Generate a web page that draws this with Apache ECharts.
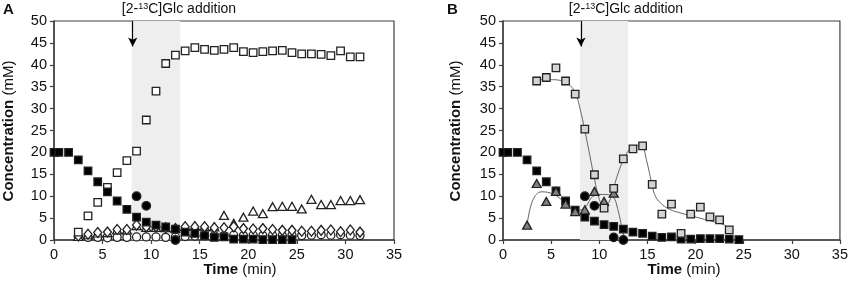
<!DOCTYPE html>
<html>
<head>
<meta charset="utf-8">
<script src="https://cdn.jsdelivr.net/npm/echarts@6/dist/echarts.min.js"></script>
<style>
  html, body { margin: 0; padding: 0; background: #fff; }
  #main { width: 851px; height: 285px; }
</style>
</head>
<body>
<div id="main"></div>
<script>
// ---- data ----
// panel A
var glcTimeA = [0, 0.5, 1.5, 2.5, 3.5, 4.5, 5.5, 6.5, 7.5, 8.5, 9.5, 10.5, 11.5, 12.5, 13.5, 14.5, 15.5, 16.5, 17.5, 18.5, 19.5, 20.5, 21.5, 22.5, 23.5, 24.5];
var glcA = [20, 20, 20, 18.3, 15.8, 13.3, 11.0, 8.9, 7.0, 5.2, 4.1, 3.4, 3.0, 2.5, 1.8, 1.5, 1.0, 0.6, 0.7, 0.2, 0.2, 0.2, 0.1, 0.1, 0.1, 0.1];
var timeA = [2.5, 3.5, 4.5, 5.5, 6.5, 7.5, 8.5, 9.5, 10.5, 11.5, 12.5, 13.5, 14.5, 15.5, 16.5, 17.5, 18.5, 19.5, 20.5, 21.5, 22.5, 23.5, 24.5, 25.5, 26.5, 27.5, 28.5, 29.5, 30.5, 31.5];
var openSqA = [1.8, 5.5, 8.6, 12.0, 15.4, 18.1, 20.3, 27.4, 34.0, 40.3, 42.2, 43.2, 43.9, 43.5, 43.3, 43.5, 43.9, 43.0, 42.8, 43.0, 43.2, 43.3, 42.8, 42.5, 42.5, 42.4, 42.1, 43.2, 41.8, 41.8];
var triA = [0.8, 1.2, 1.6, 1.7, 2.3, 2.3, 3.3, 2.9, 2.9, 2.8, 2.7, 3.1, 3.2, 3.1, 3.0, 5.6, 3.8, 5.2, 6.6, 6.0, 7.6, 7.7, 7.7, 7.1, 9.3, 8.1, 8.1, 9.0, 9.0, 9.2];
var diaA = [0.9, 1.3, 1.7, 1.8, 2.4, 2.4, 3.4, 3.0, 3.0, 2.8, 2.6, 3.0, 3.0, 3.0, 2.8, 2.8, 3.0, 2.6, 2.5, 2.6, 2.4, 2.2, 2.2, 2.0, 2.0, 2.2, 2.3, 1.9, 2.3, 1.8];
var circA = [0.8, 0.6, 0.6, 0.5, 0.6, 0.6, 0.7, 0.7, 0.7, 0.6, 0.7, 0.8, 0.9, 1.0, 1.0, 1.0, 1.1, 1.0, 1.1, 1.0, 1.1, 1.0, 1.1, 1.0, 1.1, 1.2, 1.1, 1.2, 1.1, 1.0];
var dotTimeA = [8.5, 9.5, 12.5];
var dotA = [10.0, 7.8, 0];

// panel B
var glcTimeB = [0, 0.5, 1.5, 2.5, 3.5, 4.5, 5.5, 6.5, 7.5, 8.5, 9.5, 10.5, 11.5, 12.5, 13.5, 14.5, 15.5, 16.5, 17.5, 18.5, 19.5, 20.5, 21.5, 22.5, 23.5, 24.5];
var glcB = [20, 20, 20, 18.3, 15.8, 13.3, 11.2, 8.9, 6.8, 5.2, 4.3, 3.5, 3.1, 2.5, 1.8, 1.5, 0.9, 0.6, 0.7, 0.2, 0.2, 0.3, 0.3, 0.3, 0.2, 0.1];
var greySqTimeB = [3.5, 4.5, 5.5, 6.5, 7.5, 8.5, 9.5, 10.5, 11.5, 12.5, 13.5, 14.5, 15.5, 16.5, 17.5, 18.5, 19.5, 20.5, 21.5, 22.5, 23.5];
var greySqB = [36.3, 37.1, 39.3, 36.3, 33.3, 25.3, 14.9, 7.3, 11.8, 18.5, 20.8, 21.5, 12.7, 5.9, 8.2, 1.5, 5.9, 7.5, 5.3, 4.6, 2.3];
var greyTriTimeB = [2.5, 3.5, 4.5, 5.5, 6.5, 7.5, 8.5, 9.5, 10.5, 11.5];
var greyTriB = [3.4, 12.9, 8.8, 11.1, 8.2, 6.5, 6.9, 11.1, 8.8, 10.7];
var dotTimeB = [8.5, 9.5, 11.5, 12.5];
var dotB = [10.0, 7.8, 0.6, 0];
// fitted curves drawn through the grey markers
var sqFitTime = [3.8, 5, 6, 6.8, 7.5, 8, 8.5, 9, 9.5, 10, 10.5, 11, 11.5, 12, 12.5, 13, 13.5, 14, 14.5, 14.9, 15.45, 15.85, 16.6, 17.3, 18.4, 20.1, 21.8, 23, 23.5];
var sqFit = [36.6, 36.6, 36.4, 35.6, 33.7, 30.0, 25.0, 19.5, 14.0, 9.3, 7.6, 8.6, 12.0, 15.5, 18.3, 20.3, 21.3, 21.6, 21.3, 18.3, 13.0, 9.9, 8.0, 7.0, 6.2, 5.2, 4.2, 3.4, 2.3];
var triFitTime = [2.5, 3.1, 4.0, 5.2, 6.6, 7.9, 8.6, 9.3, 10.35, 11.4, 11.9, 12.4, 12.6];
var triFit = [3.4, 9.1, 11.0, 10.5, 8.4, 6.8, 7.6, 9.9, 10.4, 9.9, 7.2, 2.3, 0.5];

// shaded window and arrow
var shadeFrom = 8, shadeTo = 13;
var arrowAt = 8.1;

function pairs(xs, ys) {
  return xs.map(function (x, i) { return [x, ys[i]]; });
}

var chart = echarts.init(document.getElementById('main'));
var font = 'Liberation Sans, Arial, sans-serif';
var axisCol = '#404040';

function xAx(i) {
  return {
    gridIndex: i, type: 'value', min: 0, max: 35, interval: 5,
    axisLine: { onZero: false, lineStyle: { color: axisCol, width: 1.5 } },
    axisTick: { show: true, length: 4, lineStyle: { color: axisCol, width: 1.2 } },
    axisLabel: { color: '#111', fontSize: 14.5, fontFamily: font, margin: 7 },
    splitLine: { show: false }
  };
}
function yAx(i) {
  return {
    gridIndex: i, type: 'value', min: 0, max: 50, interval: 5,
    axisLine: { onZero: false, lineStyle: { color: axisCol, width: 1.5 } },
    axisTick: { show: true, length: 4, lineStyle: { color: axisCol, width: 1.2 } },
    axisLabel: { color: '#111', fontSize: 14.5, fontFamily: font, margin: 7 },
    splitLine: { show: false }
  };
}
function marks(i) {
  return {
    type: 'line', xAxisIndex: i, yAxisIndex: i, data: [], z: 1, silent: true,
    markArea: {
      silent: true,
      itemStyle: { color: '#eeeeee' },
      data: [[{ xAxis: shadeFrom }, { xAxis: shadeTo }]]
    },
    markLine: {
      silent: true, symbol: ['none', 'arrow'], symbolSize: [7, 9],
      lineStyle: { color: '#000', width: 1.2, type: 'solid' },
      label: { show: false },
      data: [[{ coord: [arrowAt, 50] }, { coord: [arrowAt, 44.2] }]]
    }
  };
}
function scat(i, data, symbol, size, fill, z) {
  return {
    type: 'scatter', xAxisIndex: i, yAxisIndex: i, data: data,
    symbol: symbol, symbolSize: size, z: z || 3,
    itemStyle: { color: fill, borderColor: '#222', borderWidth: 1.3, opacity: 1 }
  };
}
function fit(i, data) {
  return {
    type: 'line', xAxisIndex: i, yAxisIndex: i, data: data, smooth: 0.4,
    showSymbol: false, z: 2,
    lineStyle: { color: '#666', width: 1 }
  };
}
var supRich = { s: { fontSize: 9, fontFamily: font, verticalAlign: 'top', lineHeight: 10, padding: [0, 0, 6, 0] } };
var boldRich = { b: { fontWeight: 'bold', fontSize: 15, fontFamily: font } };

var option = {
  animation: false,
  backgroundColor: '#fff',
  grid: [
    { left: 54, top: 21, width: 340, height: 219, show: true, borderColor: axisCol, borderWidth: 1.2, backgroundColor: 'transparent' },
    { left: 503, top: 21, width: 339, height: 219, show: true, borderColor: axisCol, borderWidth: 1.2, backgroundColor: 'transparent' }
  ],
  xAxis: [xAx(0), xAx(1)],
  yAxis: [yAx(0), yAx(1)],
  graphic: [
    { type: 'text', left: 3, top: 2, style: { text: 'A', font: 'bold 15px ' + font, fill: '#111' } },
    { type: 'text', left: 447, top: 2, style: { text: 'B', font: 'bold 15px ' + font, fill: '#111' } },
    { type: 'text', x: 179, y: 2, style: {
        text: '[2-{s|13}C]Glc addition', align: 'center', font: '14px ' + font, fill: '#111', rich: supRich } },
    { type: 'text', x: 626, y: 2, style: {
        text: '[2-{s|13}C]Glc addition', align: 'center', font: '14px ' + font, fill: '#111', rich: supRich } },
    { type: 'text', x: 240, y: 262, style: {
        text: '{b|Time} (min)', align: 'center', font: '15px ' + font, fill: '#111', rich: boldRich } },
    { type: 'text', x: 684, y: 262, style: {
        text: '{b|Time} (min)', align: 'center', font: '15px ' + font, fill: '#111', rich: boldRich } },
    { type: 'text', x: 1, y: 131, rotation: Math.PI / 2, style: {
        text: '{b|Concentration} (mM)', align: 'center', verticalAlign: 'top', font: '15px ' + font, fill: '#111', rich: boldRich } },
    { type: 'text', x: 448, y: 131, rotation: Math.PI / 2, style: {
        text: '{b|Concentration} (mM)', align: 'center', verticalAlign: 'top', font: '15px ' + font, fill: '#111', rich: boldRich } }
  ],
  series: [
    marks(0),
    scat(0, pairs(timeA, circA), 'circle', 8, '#fff', 3),
    scat(0, pairs(timeA, triA), 'triangle', [9, 8], '#fff', 4),
    scat(0, pairs(timeA, diaA), 'diamond', [8, 10], '#fff', 5),
    scat(0, pairs(timeA, openSqA), 'rect', 7.5, '#fff', 6),
    scat(0, pairs(glcTimeA, glcA), 'rect', 7.5, '#000', 7),
    scat(0, pairs(dotTimeA, dotA), 'circle', 8.5, '#000', 8),

    marks(1),
    fit(1, pairs(sqFitTime, sqFit)),
    fit(1, pairs(triFitTime, triFit)),
    scat(1, pairs(glcTimeB, glcB), 'rect', 7.5, '#000', 3),
    scat(1, pairs(greyTriTimeB, greyTriB), 'triangle', [9, 8], '#808080', 4),
    scat(1, pairs(greySqTimeB, greySqB), 'rect', 7.5, '#d4d4d4', 5),
    scat(1, pairs(dotTimeB, dotB), 'circle', 8.5, '#000', 6)
  ]
};
chart.setOption(option);
window.addEventListener('resize', function () { chart.resize(); });
</script>
</body>
</html>
